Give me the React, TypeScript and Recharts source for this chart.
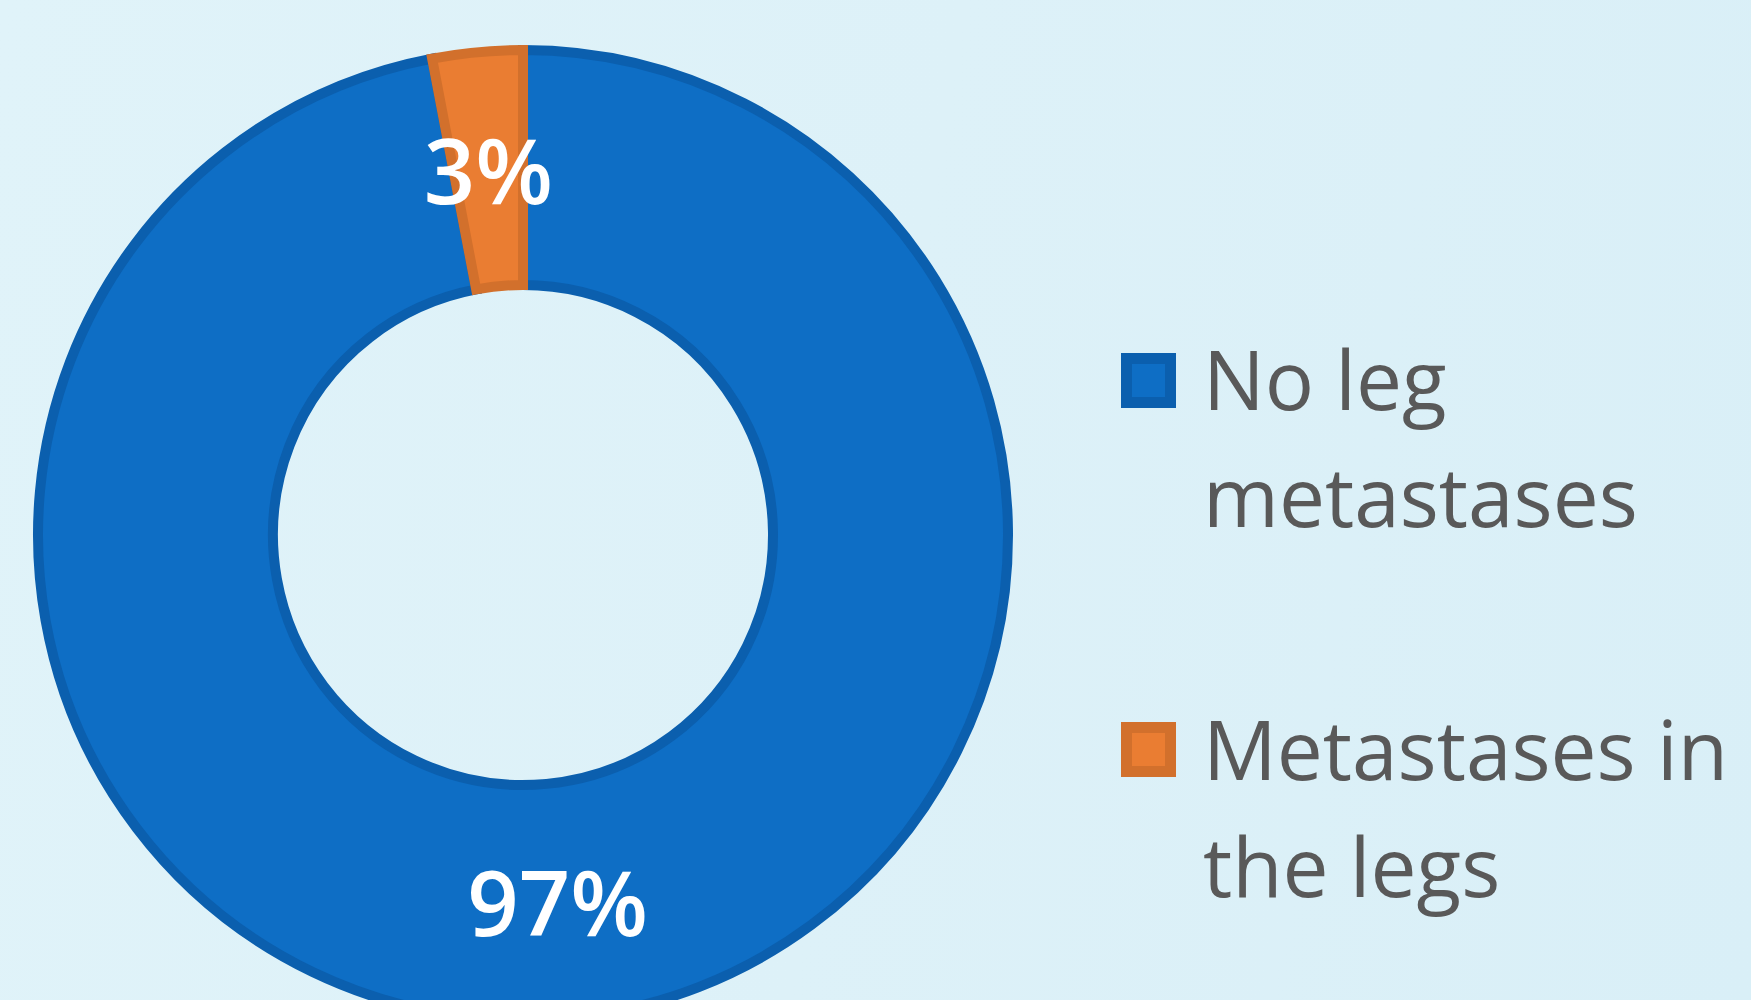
import React from "react";
import { PieChart, Pie, Cell, Legend } from "recharts";

const categories = ["No leg metastases", "Metastases in the legs"];
const legendLines = [["No leg", "metastases"], ["Metastases in", "the legs"]];
const values = [97, 3];
const percentLabels = ["97%", "3%"];
const fills = ["#0E6EC5", "#EA7D32"];
const strokes = ["#0B5FAE", "#D2702C"];

const data = categories.map((name, i) => ({ name, value: values[i], label: percentLabels[i] }));

const RAD = Math.PI / 180;

const renderLabel = (props: any) => {
  const { cx, cy, midAngle, innerRadius, outerRadius, index } = props;
  const r = (innerRadius + outerRadius) / 2;
  const x = cx + r * Math.cos(-midAngle * RAD);
  const y = cy + r * Math.sin(-midAngle * RAD);
  return (
    <text
      x={x}
      y={y}
      fill="#FFFFFF"
      textAnchor="middle"
      dominantBaseline="central"
      fontFamily="'Open Sans', sans-serif"
      fontWeight={600}
      fontSize={90}
    >
      {data[index].label}
    </text>
  );
};

const squareTops = [353, 722];
const textTops = [320, 690];

const LegendContent = () => (
  <div style={{ position: "relative", width: 1751, height: 1000 }}>
    {legendLines.map((lines, i) => (
      <React.Fragment key={i}>
        <div
          style={{
            position: "absolute",
            left: 1121,
            top: squareTops[i],
            width: 55,
            height: 55,
            boxSizing: "border-box",
            background: fills[i],
            border: `11px solid ${strokes[i]}`,
          }}
        />
        <div
          style={{
            position: "absolute",
            left: 1203,
            top: textTops[i],
            fontFamily: "'Open Sans', sans-serif",
            fontSize: 82,
            lineHeight: "117px",
            color: "#595959",
            whiteSpace: "nowrap",
          }}
        >
          {lines.map((l, j) => (
            <div key={j}>{l}</div>
          ))}
        </div>
      </React.Fragment>
    ))}
  </div>
);

export default function App() {
  return (
    <div
      style={{
        position: "fixed",
        left: 0,
        top: 0,
        width: 1751,
        height: 1000,
        overflow: "hidden",
        background: "linear-gradient(100deg, #E0F3F9 0%, #DDF1F8 50%, #D9EFF7 100%)",
      }}
    >
      <PieChart width={1751} height={1000} margin={{ top: 0, right: 0, bottom: 0, left: 0 }}>
        <Pie
          data={data}
          dataKey="value"
          nameKey="name"
          cx={523}
          cy={535}
          innerRadius={250}
          outerRadius={485}
          startAngle={90}
          endAngle={-270}
          label={renderLabel}
          labelLine={false}
          isAnimationActive={false}
          strokeWidth={10}
        >
          {data.map((d, i) => (
            <Cell key={d.name} fill={fills[i]} stroke={strokes[i]} strokeWidth={10} />
          ))}
        </Pie>
        <Legend
          content={LegendContent}
          wrapperStyle={{ position: "absolute", left: 0, top: 0, width: 1751, height: 1000 }}
        />
      </PieChart>
    </div>
  );
}
